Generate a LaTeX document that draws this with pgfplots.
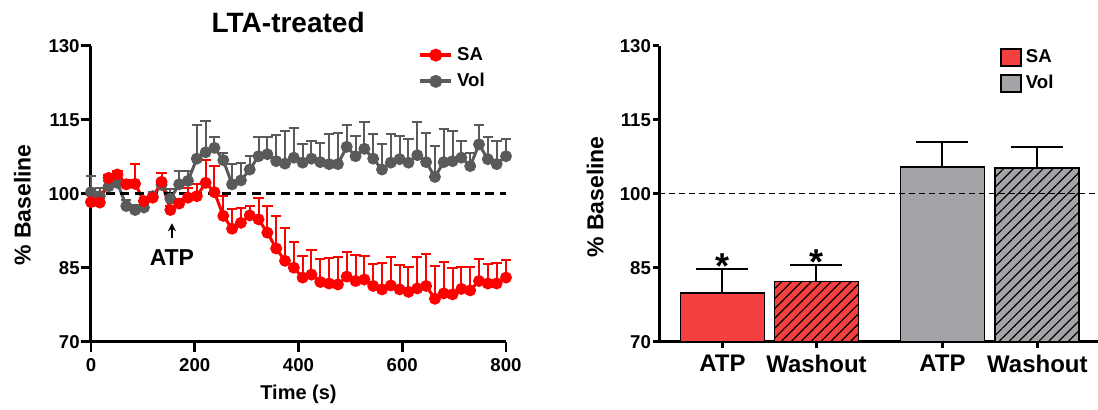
\documentclass[border=0pt]{standalone}
\usepackage{fontspec}
\setmainfont{Liberation Sans}
\usepackage{pgfplots}
\usepackage{pgfplotstable}
\pgfplotsset{compat=1.18}
\usetikzlibrary{patterns.meta,arrows.meta}
\definecolor{sared}{RGB}{255,0,0}
\definecolor{volgrey}{RGB}{90,90,90}
\definecolor{sabar}{RGB}{245,64,64}
\definecolor{volbar}{RGB}{163,163,168}

\pgfplotstableread{
t y e
0 98.3 1.5
17 98.2 1.0
34 103.2 0.6
51 103.9 0.6
68 101.9 0.8
85 102.0 4.0
102 98.5 0.6
119 99.2 1.0
136 102.4 1.8
153 96.7 0.8
170 98.0 1.0
187 99.2 2.0
204 99.5 2.5
221 102.2 4.6
238 100.3 5.3
255 95.5 4.0
272 92.9 4.0
289 94.1 3.1
306 95.6 2.0
323 94.8 4.3
340 92.1 5.4
357 88.9 6.6
374 86.4 6.7
391 85.0 5.3
408 83.0 4.4
425 83.6 5.0
442 82.1 4.6
459 81.8 5.2
476 81.6 5.6
493 83.2 5.0
510 82.3 5.2
527 82.6 4.8
544 81.3 4.5
561 80.6 5.4
578 81.4 5.8
595 80.6 4.9
612 80.1 5.1
629 80.8 6.4
646 81.3 6.5
663 78.7 6.6
680 79.8 6.4
697 79.6 5.4
714 80.7 4.4
731 80.4 4.7
748 82.3 4.5
765 81.8 3.9
782 81.8 4.2
800 83.0 3.5
}\satab

\pgfplotstableread{
t y e
0 100.3 3.3
17 99.5 1.7
34 101.5 1.0
51 102.2 1.0
68 97.5 1.3
85 96.7 1.0
102 97.2 1.0
119 99.5 0.8
136 101.8 1.0
153 99.0 1.9
170 101.9 2.7
187 102.6 2.0
204 107.1 6.8
221 108.4 6.3
238 109.3 2.2
255 106.8 1.5
272 101.9 4.1
289 102.7 3.6
306 104.9 2.7
323 107.6 3.9
340 108.0 3.5
357 106.6 5.2
374 106.1 6.7
391 107.3 6.1
408 106.3 3.7
425 107.1 3.6
442 106.4 3.8
459 106.0 6.2
476 106.0 6.4
493 109.5 4.4
510 107.6 4.1
527 109.1 5.4
544 107.1 4.9
561 104.9 5.1
578 106.3 5.7
595 107.0 4.7
612 106.3 4.7
629 107.8 6.7
646 106.4 6.0
663 103.4 6.3
680 106.4 6.7
697 106.6 6.1
714 107.3 3.4
731 105.6 2.6
748 110.0 3.9
765 107.0 4.4
782 106.0 4.7
800 107.6 3.5
}\voltab

\pgfplotsset{
  prism/.style={
    scale only axis,
    ymin=70, ymax=130,
    ytick={70,85,100,115,130},
    axis x line*=bottom, axis y line*=left,
    axis line style={line width=1.5pt, black},
    tick align=outside,
    tick style={line width=1.3pt, black},
    ticklabel style={font=\bfseries\fontsize{9.3}{9.3}\selectfont},
    /pgf/number format/assume math mode=true,
    every axis title shift=0pt,
    clip=false,
  },
}

\begin{document}
\begin{tikzpicture}
\path[use as bounding box] (0,0) rectangle (549pt,205pt);
% ---------------- left panel ----------------
\begin{axis}[prism,
  at={(45.5pt,34.15pt)}, anchor=south west,
  width=207.5pt, height=148pt,
  xmin=0, xmax=800,
  xtick={0,200,400,600,800},
  major tick length=5pt,
  y tick label style={inner sep=0.5pt},
  xlabel={Time (s)}, ylabel={\% Baseline},
  xlabel style={font=\bfseries\fontsize{10}{12}\selectfont, at={(axis description cs:0.5,-0.177)}, anchor=center},
  ylabel style={font=\bfseries\fontsize{11.5}{12}\selectfont, at={(axis description cs:-0.165,0.462)}, anchor=center},
  title={LTA-treated},
  title style={font=\bfseries\fontsize{14}{14}\selectfont, at={(axis description cs:0.475,1.077)}, anchor=center},
  reverse legend,
  legend cell align=left,
  legend style={draw=none, fill=none, at={(axis description cs:0.788,1.01)}, anchor=north west,
    font=\bfseries\fontsize{9.3}{9.3}\selectfont, row sep=1pt, inner sep=0pt,
    /tikz/every even column/.append style={column sep=7pt}},
  legend image code/.code={\draw[mark repeat=2,mark phase=2,#1, line width=2pt] plot coordinates {(0cm,0cm) (0.27cm,0cm) (0.54cm,0cm)};},
]
\addplot[volgrey, line width=1.5pt, mark=*, mark size=2.2pt, mark options={solid},
  error bars/.cd, y dir=plus, y explicit,
  error bar style={line width=1pt},
  error mark options={rotate=90, mark size=2.6pt, line width=1pt}]
  table[x=t, y=y, y error=e]{\voltab};
\addlegendentry{Vol}
\addplot[sared, line width=1.5pt, mark=*, mark size=2.2pt, mark options={solid},
  error bars/.cd, y dir=plus, y explicit,
  error bar style={line width=1pt},
  error mark options={rotate=90, mark size=2.6pt, line width=1pt}]
  table[x=t, y=y, y error=e]{\satab};
\addlegendentry{SA}
\addplot[black, line width=1.8pt, dash pattern=on 4.5pt off 2.8pt, forget plot] coordinates {(0,100) (800,100)};
\draw[-{Stealth[length=4pt,width=4pt]}, line width=1pt] (axis cs:156,91.0) -- (axis cs:156,94.0);
\node[font=\bfseries\fontsize{11.5}{12}\selectfont] at (axis cs:156,87.1) {ATP};
\end{axis}
% ---------------- right panel ----------------
\begin{axis}[prism,
  at={(329.65pt,34.15pt)}, anchor=south west,
  width=219.35pt, height=148pt,
  xmin=0.328, xmax=4.995,
  xtick={1,2,3.34,4.35},
  xticklabels={ATP,Washout,ATP,Washout},
  x tick label style={font=\bfseries\fontsize{12}{12}\selectfont},
  y tick label style={inner sep=1pt},
  major tick length=3pt,
  bar width=0.894,
  ylabel={\% Baseline},
  ylabel style={font=\bfseries\fontsize{11.5}{12}\selectfont, at={(axis description cs:-0.146,0.489)}, anchor=center},
  legend cell align=left,
  legend style={draw=none, fill=none, at={(axis description cs:0.776,1.002)}, anchor=north west,
    font=\bfseries\fontsize{9.3}{9.3}\selectfont, row sep=1pt, inner sep=0pt,
    /tikz/every even column/.append style={column sep=4pt}},
  legend image code/.code={\draw[#1, draw=black, line width=0.9pt] (0cm,-0.15cm) rectangle (0.35cm,0.15cm);},
]
\addplot[ybar, bar shift=0pt, fill=sabar, draw=black, line width=0.9pt,
  error bars/.cd, y dir=plus, y explicit,
  error bar style={line width=1pt, black},
  error mark options={rotate=90, mark size=13pt, line width=1pt, black}]
  coordinates {(1,79.9) +- (0,4.9)};
\addlegendentry{SA}
\addplot[ybar, bar shift=0pt, fill=volbar, draw=black, line width=0.9pt,
  error bars/.cd, y dir=plus, y explicit,
  error bar style={line width=1pt, black},
  error mark options={rotate=90, mark size=13pt, line width=1pt, black}]
  coordinates {(3.34,105.4) +- (0,5.0)};
\addlegendentry{Vol}
\addplot[ybar, bar shift=0pt, fill=sabar, draw=black, line width=0.9pt, forget plot,
  postaction={pattern={Lines[angle=45,distance=3.5pt,line width=0.6pt]}, pattern color=black},
  error bars/.cd, y dir=plus, y explicit,
  error bar style={line width=1pt, black},
  error mark options={rotate=90, mark size=13pt, line width=1pt, black}]
  coordinates {(2,82.2) +- (0,3.4)};
\addplot[ybar, bar shift=0pt, fill=volbar, draw=black, line width=0.9pt, forget plot,
  postaction={pattern={Lines[angle=45,distance=3.5pt,line width=0.6pt]}, pattern color=black},
  error bars/.cd, y dir=plus, y explicit,
  error bar style={line width=1pt, black},
  error mark options={rotate=90, mark size=13pt, line width=1pt, black}]
  coordinates {(4.35,105.2) +- (0,4.2)};
\addplot[black, line width=0.8pt, dash pattern=on 3pt off 2pt, forget plot] coordinates {(0.328,100) (4.995,100)};
\node[font=\bfseries\fontsize{18}{18}\selectfont] at (axis cs:1,85.4) {*};
\node[font=\bfseries\fontsize{18}{18}\selectfont] at (axis cs:2,86.2) {*};
\end{axis}
\end{tikzpicture}
\end{document}
